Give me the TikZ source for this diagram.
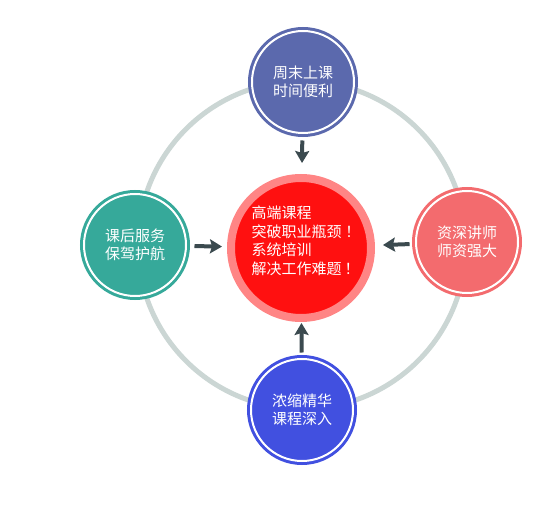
\documentclass[tikz,border=0pt]{standalone}
\usepackage{fontspec}
\newfontfamily\cjk{Noto Sans CJK SC}
\usetikzlibrary{arrows.meta}
\definecolor{ringgray}{HTML}{CBD6D4}
\definecolor{arrowgray}{HTML}{3B4A4F}
\definecolor{topblue}{HTML}{5B69AD}
\definecolor{leftteal}{HTML}{36A99A}
\definecolor{rightsalmon}{HTML}{F36B6E}
\definecolor{bottomblue}{HTML}{4150E0}
\definecolor{corered}{HTML}{FF1010}
\definecolor{corerim}{HTML}{FF8585}
\tikzset{
  bubble/.style={circle, minimum size=102, fill=#1, draw=#1, line width=3pt,
    double=white, double distance=2pt, text=white, align=center,
    font=\cjk\fontsize{15}{18.5}\selectfont},
  corebox/.style={circle, minimum size=140, fill=corered, draw=corerim,
    line width=8pt},
  coretext/.style={text=white, align=left, xshift=5pt, yshift=7pt,
    font=\cjk\fontsize{15}{18.5}\selectfont},
  push/.style={draw=arrowgray, line width=4pt,
    -{Stealth[width=14pt,length=12pt,inset=2pt]}}
}
\begin{document}
\begin{tikzpicture}[x=1pt,y=-1pt]
\useasboundingbox (0,0) rectangle (555,508);
\def\cx{302}     % ring centre x
\def\cy{245}     % ring centre y
\def\rr{164}     % ring radius
%% Grey ring behind everything
\draw[ringgray, line width=5pt] (\cx,\cy) circle[radius=\rr];
%% Centre disc, text sits a little up and right
\node[corebox, label={[coretext]center:高端课程\\突破职业瓶颈\hspace{4pt}！\\系统培训\\解决工作难题\hspace{3pt}！}]
  (core) at (301,248) {};
%% Four satellites on the ring
\node[bubble=topblue] (top) at (303,82) {周末上课\\时间便利};
\node[bubble=leftteal] (left) at (135,245) {课后服务\\保驾护航};
\node[bubble=rightsalmon] (right) at (467,242) {资深讲师\\师资强大};
\node[bubble=bottomblue] (bottom) at (302,410) {浓缩精华\\课程深入};
%% Arrows pointing in
\draw[push, shorten <=6pt, shorten >=11pt] (top) -- (core);
\draw[push, shorten <=7pt, shorten >=5pt] (left) -- (core);
\draw[push, shorten <=5pt, shorten >=8pt] (right) -- (core);
\draw[push, shorten <=5pt, shorten >=1pt] (bottom) -- (core);
\end{tikzpicture}
\end{document}
